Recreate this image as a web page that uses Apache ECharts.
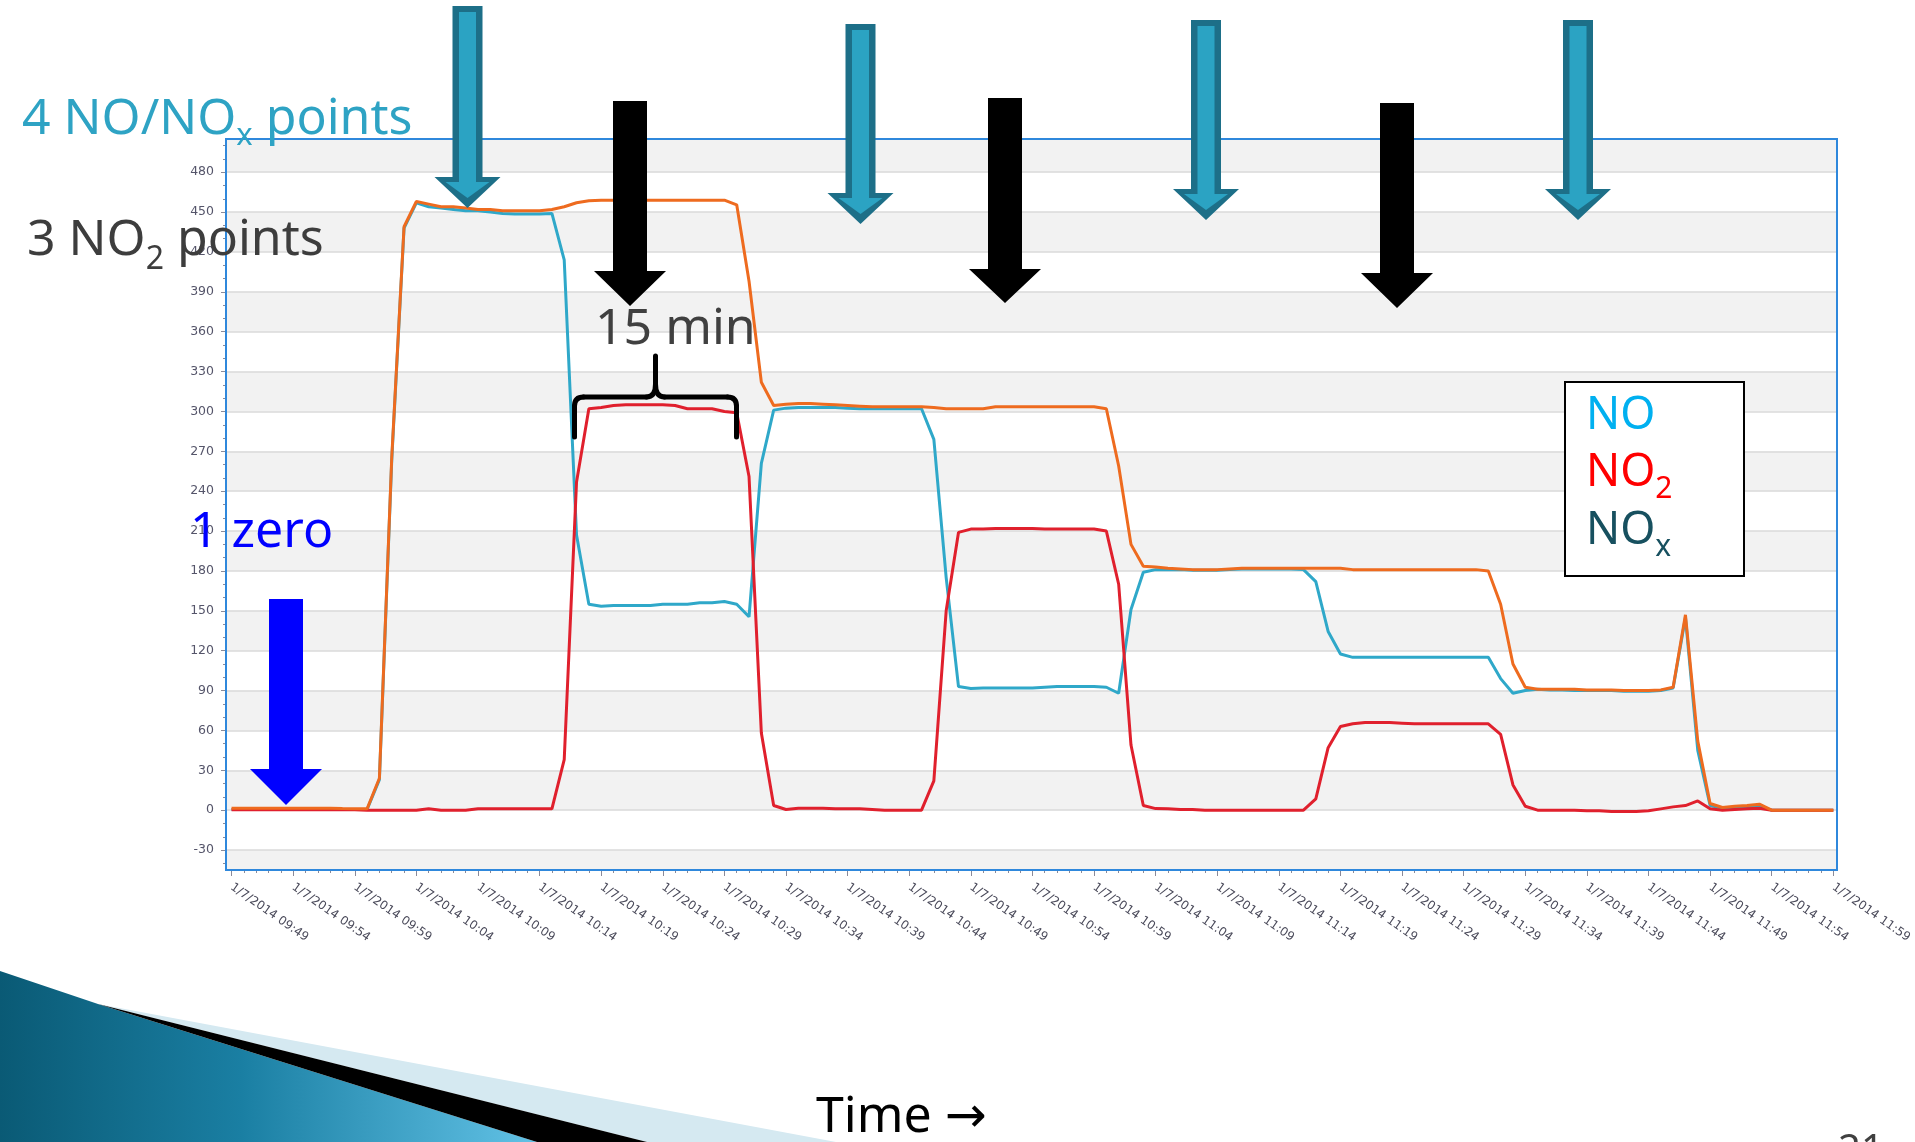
<!DOCTYPE html>
<html>
<head>
<meta charset="utf-8">
<script src="https://cdn.jsdelivr.net/npm/echarts@6/dist/echarts.min.js"></script>
<style>
  html, body { margin: 0; padding: 0; background: #ffffff; }
  #chart { width: 1915px; height: 1142px; }
</style>
</head>
<body>
<div id="chart"></div>
<script>
// One reading per minute, 1/7/2014 09:49 .. 11:59 (131 readings)
const timeLabels = [
  '1/7/2014 09:49', '1/7/2014 09:54', '1/7/2014 09:59', '1/7/2014 10:04', '1/7/2014 10:09',
  '1/7/2014 10:14', '1/7/2014 10:19', '1/7/2014 10:24', '1/7/2014 10:29', '1/7/2014 10:34',
  '1/7/2014 10:39', '1/7/2014 10:44', '1/7/2014 10:49', '1/7/2014 10:54', '1/7/2014 10:59',
  '1/7/2014 11:04', '1/7/2014 11:09', '1/7/2014 11:14', '1/7/2014 11:19', '1/7/2014 11:24',
  '1/7/2014 11:29', '1/7/2014 11:34', '1/7/2014 11:39', '1/7/2014 11:44', '1/7/2014 11:49',
  '1/7/2014 11:54', '1/7/2014 11:59'
];
const labelStep = 5; // minutes between time labels

const yTicks = [-30, 0, 30, 60, 90, 120, 150, 180, 210, 240, 270, 300, 330, 360, 390, 420, 450, 480];

const NOx = [
  1.5, 1.5, 1.5, 1.5, 1.5, 1.5, 1.5, 1.5, 1.5, 1.2, 1.0,
  1.0, 24, 265, 439, 458, 456, 454, 454, 453, 452,
  452, 451, 451, 451, 451, 452, 454, 457, 458.5, 459,
  459, 459, 459, 459, 459, 459, 459, 459, 459, 459,
  455.5, 398, 322, 304.5, 305.5, 306, 306, 305.5, 305, 304.5,
  304, 303.5, 303.5, 303.5, 303.5, 303.5, 303, 302, 302, 302,
  302, 303.5, 303.5, 303.5, 303.5, 303.5, 303.5, 303.5, 303.5, 303.5,
  302, 259, 200, 183.5, 183, 182, 181.5, 181, 181, 181,
  181.5, 182, 182, 182, 182, 182, 182, 182, 182, 182,
  181, 181, 181, 181, 181, 181, 181, 181, 181, 181,
  181, 180, 155, 110, 92.5, 91, 91, 91, 91, 90.5,
  90.5, 90.5, 90, 90, 90, 90.5, 92.5, 147, 52, 5,
  2, 3, 3.5, 4.5, 0, 0, 0, 0, 0, 0
];

const NO = [
  0.5, 0.5, 0.5, 0.5, 0.5, 0.5, 0.5, 0.5, 0.5, 0.5, 0.5,
  0.5, 23, 263, 438, 457, 454, 453, 452, 451, 451,
  450, 449, 448.5, 448.5, 448.5, 449, 414, 207, 155, 153.5,
  154, 154, 154, 154, 155, 155, 155, 156, 156, 157,
  155, 145.5, 261, 301, 302.5, 303, 303, 303, 303, 302.5,
  302, 302, 302, 302, 302, 302, 279, 175, 93, 91.5,
  92, 92, 92, 92, 92, 92.5, 93, 93, 93, 93,
  92.5, 88, 151, 179, 181, 181, 181, 180.5, 180.5, 180.5,
  181, 181.5, 181.5, 181.5, 181.5, 181.5, 181, 172, 134.5, 117.5,
  115, 115, 115, 115, 115, 115, 115, 115, 115, 115,
  115, 115, 99, 88, 90, 91, 90.5, 90.5, 90, 90,
  90, 90, 89.5, 89.5, 89.5, 90, 92, 145, 45, 3.5,
  1.5, 2, 2.5, 3, 0, 0, 0, 0, 0, 0
];

const NO2 = [
  0.3, 0.3, 0.3, 0.3, 0.3, 0.3, 0.3, 0.3, 0.3, 0.3, 0.3,
  0, 0, 0, 0, 0, 1, 0, 0, 0, 1,
  1, 1, 1, 1, 1, 1, 38, 247, 302, 303,
  304.5, 305, 305, 305, 305, 304.5, 302, 302, 302, 300,
  299, 251, 58, 3.5, 0.5, 1.5, 1.5, 1.5, 1, 1,
  1, 0.5, 0, 0, 0, 0, 22, 150, 209, 211.5,
  211.5, 212, 212, 212, 212, 211.5, 211.5, 211.5, 211.5, 211.5,
  210, 170, 49, 3.5, 1.2, 1, 0.5, 0.5, 0, 0,
  0, 0, 0, 0, 0, 0, 0, 8.5, 47, 63,
  65, 66, 66, 66, 65.5, 65, 65, 65, 65, 65,
  65, 65, 57, 19, 3, 0, 0, 0, 0, -0.5,
  -0.5, -1, -1, -1, -0.5, 1, 2.5, 3.5, 7, 1,
  0, 0.5, 1, 1.5, 0, 0, 0, 0, 0, 0
];

// ---- derived helpers ----
const toPoints = arr => arr.map((v, i) => [i, v]);
const labelIdx = timeLabels.map((_, k) => k * labelStep);
const minuteIdx = NOx.map((_, i) => i);
const yMinor = [];
for (let k = 0; k < yTicks.length - 1; k++) {
  const step = (yTicks[k + 1] - yTicks[k]) / 3;
  yMinor.push(yTicks[k] + step, yTicks[k] + 2 * step);
}
yMinor.push(yTicks[0] - 10, yTicks[yTicks.length - 1] + 10, yTicks[yTicks.length - 1] + 20);

const TICK = '#8a8a99';
const FONT = '"Noto Sans", "Open Sans", "DejaVu Sans", sans-serif';
const measureCtx = document.createElement('canvas').getContext('2d');

// single run of text placed by its baseline
function textAt(x, baseline, str, color, size, z) {
  const lh = Math.round(size * 1.2);
  return {
    type: 'text', z: z || 30,
    style: { x: x, y: baseline - (lh / 2 + size * 0.36), text: str, align: 'left',
             verticalAlign: 'top', font: size + 'px ' + FONT, fill: color, lineHeight: lh }
  };
}
// text with subscripts: parts = [[text, isSub], ...]
function textRun(x, baseline, parts, color, size, subSize, drop) {
  const out = [];
  let cx = x;
  parts.forEach(p => {
    const fs = p[1] ? subSize : size;
    out.push(textAt(cx, p[1] ? baseline + drop : baseline, p[0], color, fs));
    measureCtx.font = fs + 'px ' + FONT;
    cx += measureCtx.measureText(p[0]).width;
  });
  return out;
}

function arrowPts(cx, top, shaftW, headY, headW, tipY) {
  const s = shaftW / 2, h = headW / 2;
  return [[cx - s, top], [cx + s, top], [cx + s, headY], [cx + h, headY],
          [cx, tipY], [cx - h, headY], [cx - s, headY]];
}
function solidArrow(cx, top, shaftW, headY, headW, tipY, color) {
  return { type: 'polygon', z: 30, shape: { points: arrowPts(cx, top, shaftW, headY, headW, tipY) },
           style: { fill: color } };
}
function tealArrow(cx, top, headY, tipY) {
  return [
    { type: 'polygon', z: 30, shape: { points: arrowPts(cx, top, 30, headY, 66, tipY) },
      style: { fill: '#1d6f88' } },
    { type: 'polygon', z: 31, shape: { points: arrowPts(cx, top + 6, 17, headY + 5, 44, tipY - 10) },
      style: { fill: '#2ba3c3' } }
  ];
}

// curly brace spanning one calibration step
function brace(xl, xr, xm, yBar, yEnd, yTip) {
  const st = { stroke: '#000000', lineWidth: 5, fill: 'none', lineCap: 'round' };
  const r = 9;
  const seg = (x1, y1, x2, y2) => ({ type: 'line', z: 30, shape: { x1, y1, x2, y2 }, style: st });
  const q = (x1, y1, cx, cy, x2, y2) => ({ type: 'bezierCurve', z: 30,
    shape: { x1, y1, x2, y2, cpx1: cx, cpy1: cy }, style: st });
  return [
    seg(xl, yEnd, xl, yBar + r), q(xl, yBar + r, xl, yBar, xl + r, yBar), seg(xl + r, yBar, xm - r, yBar),
    q(xm - r, yBar, xm, yBar, xm, yBar - 13), seg(xm, yBar - 13, xm, yTip),
    q(xm, yBar - 13, xm, yBar, xm + r, yBar), seg(xm + r, yBar, xr - r, yBar),
    q(xr - r, yBar, xr, yBar, xr, yBar + r), seg(xr, yBar + r, xr, yEnd)
  ];
}

const chart = echarts.init(document.getElementById('chart'), null, { renderer: 'canvas' });

const graphics = [
  // plot frame
  { type: 'rect', z: 10, shape: { x: 226, y: 139, width: 1611, height: 731 },
    style: { fill: 'none', stroke: '#2f88dc', lineWidth: 2 } },

  // slide decoration, lower left
  { type: 'polygon', z: 5, shape: { points: [[0, 971], [98, 1004], [537, 1142], [0, 1142]] },
    style: { fill: new echarts.graphic.LinearGradient(0, 0, 1, 0, [
      { offset: 0, color: '#0a5a75' }, { offset: 0.45, color: '#1a7fa3' }, { offset: 1, color: '#62c2e6' }]) } },
  { type: 'polygon', z: 5, shape: { points: [[98, 1004], [836, 1142], [647, 1142]] },
    style: { fill: '#d5e9f1' } },
  { type: 'polygon', z: 6, shape: { points: [[98, 1004], [647, 1142], [537, 1142]] },
    style: { fill: '#000000' } },

  // calibration point arrows
  ...tealArrow(467.5, 6, 177, 208),
  ...tealArrow(860.5, 24, 193, 224),
  ...tealArrow(1206, 20, 189, 220),
  ...tealArrow(1578, 20, 189, 220),
  solidArrow(630, 101, 34, 271, 72, 306, '#000000'),
  solidArrow(1005, 98, 34, 269, 72, 303, '#000000'),
  solidArrow(1397, 103, 34, 273, 72, 308, '#000000'),
  solidArrow(286, 599, 34, 769, 72, 805, '#0000ff'),

  ...brace(574.5, 736.5, 655.5, 397, 437, 356),

  ...textRun(22, 138, [['4 NO/NO'], ['x', 1], [' points']], '#2ea3c4', 50, 31, 9),
  ...textRun(27, 259, [['3 NO'], ['2', 1], [' points']], '#3d3d3d', 50, 32, 12),
  textAt(190, 551, '1 zero', '#0000ff', 50),
  textAt(595, 348, '15 min', '#404040', 50),
  textAt(816, 1136, 'Time \u2192', '#000000', 50),
  textAt(1838, 1166, '21', '#404040', 40),

  // key box
  { type: 'rect', z: 30, shape: { x: 1565, y: 382, width: 179, height: 194 },
    style: { fill: '#ffffff', stroke: '#000000', lineWidth: 2 } },
  textAt(1586, 432, 'NO', '#00b0f0', 45),
  ...textRun(1586, 489, [['NO'], ['2', 1]], '#ff0000', 45, 30, 11),
  ...textRun(1586, 547, [['NO'], ['x', 1]], '#17505f', 45, 30, 11)
];

const option = {
  animation: false,
  backgroundColor: '#ffffff',
  grid: { left: 226, top: 139, width: 1611, height: 731, show: true,
          backgroundColor: '#f2f2f2', borderWidth: 0 },
  xAxis: [
    { type: 'value', position: 'bottom', min: -0.45, max: 130.3,
      axisLine: { show: false, onZero: false }, splitLine: { show: false },
      axisTick: { show: true, customValues: labelIdx, length: 6, lineStyle: { color: TICK } },
      axisLabel: { customValues: labelIdx, formatter: v => timeLabels[Math.round(v / labelStep)],
                   rotate: -35, margin: 16, color: '#4a4a5a', fontSize: 12,
                   fontFamily: '"DejaVu Sans", sans-serif' } },
    { type: 'value', position: 'bottom', min: -0.45, max: 130.3,
      axisLine: { show: false, onZero: false }, splitLine: { show: false }, axisLabel: { show: false },
      axisTick: { show: true, customValues: minuteIdx, length: 3, lineStyle: { color: TICK } } }
  ],
  yAxis: [
    { type: 'value', position: 'left', min: -45, max: 505,
      axisLine: { show: false, onZero: false },
      axisTick: { show: true, customValues: yTicks, length: 5, lineStyle: { color: TICK } },
      axisLabel: { customValues: yTicks, margin: 12, color: '#55556a', fontSize: 12.5,
                   fontFamily: '"DejaVu Sans", sans-serif' },
      splitLine: { show: true, lineStyle: { color: '#dadada', width: 1.5 } },
      splitArea: { show: true, areaStyle: { color: ['#ffffff', '#f2f2f2'] } } },
    { type: 'value', position: 'left', min: -45, max: 505,
      axisLine: { show: false, onZero: false }, axisLabel: { show: false }, splitLine: { show: false },
      axisTick: { show: true, customValues: yMinor, length: 3, lineStyle: { color: TICK } } }
  ],
  series: [
    { name: 'NO', type: 'line', data: toPoints(NO), symbol: 'none',
      lineStyle: { color: '#2fa8c9', width: 3 }, itemStyle: { color: '#2fa8c9' } },
    { name: 'NO\u2082', type: 'line', data: toPoints(NO2), symbol: 'none',
      lineStyle: { color: '#e0202d', width: 3 }, itemStyle: { color: '#e0202d' } },
    { name: 'NOx', type: 'line', data: toPoints(NOx), symbol: 'none',
      lineStyle: { color: '#ee6b1f', width: 3 }, itemStyle: { color: '#ee6b1f' } }
  ],
  graphic: graphics
};

chart.setOption(option);
</script>
</body>
</html>
